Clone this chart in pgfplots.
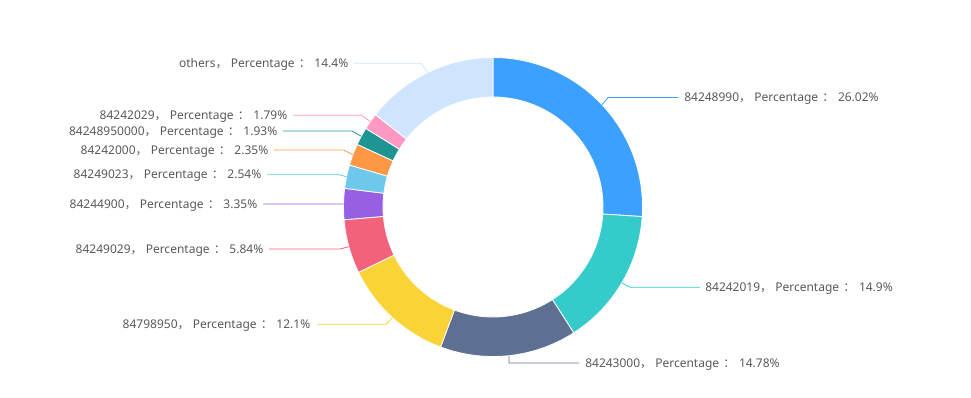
\documentclass[border=0pt]{standalone}
\usepackage{pgfplots}
\pgfplotsset{compat=1.18}
\usepackage{fontspec}
\setmainfont{Noto Sans}
\newfontfamily\cjk{Noto Sans CJK SC}
\definecolor{c1}{HTML}{3BA0FF}
\definecolor{c2}{HTML}{36CBCB}
\definecolor{c3}{HTML}{5D7092}
\definecolor{c4}{HTML}{FAD337}
\definecolor{c5}{HTML}{F2637B}
\definecolor{c6}{HTML}{975FE4}
\definecolor{c7}{HTML}{6DC8EC}
\definecolor{c8}{HTML}{FF9845}
\definecolor{c9}{HTML}{1E9493}
\definecolor{c10}{HTML}{FF99C3}
\definecolor{c11}{HTML}{CFE5FF}
\definecolor{txt}{HTML}{595959}
% #1 = cumulative percentage before the slice, #2 = slice percentage, #3 = colour
\newcommand\slice[3]{%
  \addplot[fill=#3, draw=white, line width=0.6pt, domain=0:3, samples=181, variable=\s]
  ({493 + ((\s<=1) ? 149.5 : ((\s<=2) ? (149.5-39.5*(\s-1)) : 110))*cos(90-3.6*(#1 + ((\s<=1) ? (#2*\s) : ((\s<=2) ? #2 : (#2*(3-\s))))))},
   {190 + ((\s<=1) ? 149.5 : ((\s<=2) ? (149.5-39.5*(\s-1)) : 110))*sin(90-3.6*(#1 + ((\s<=1) ? (#2*\s) : ((\s<=2) ? #2 : (#2*(3-\s))))))}) -- cycle;
}
\newcommand\lab[2]{#1{\cjk ，} Percentage\hspace{0.35em}{\cjk ：}\hspace{0.3em}#2\%}
\begin{document}
\begin{tikzpicture}
\begin{axis}[width=728.25pt, height=297.75pt, scale only axis,
  xmin=0, xmax=971, ymin=0, ymax=397, hide axis, clip=false]
\path (axis cs:0,0) rectangle (axis cs:971,397);
% slices: cumulative start, percentage
\slice{0}{26.02}{c1}
\slice{26.02}{14.9}{c2}
\slice{40.92}{14.78}{c3}
\slice{55.70}{12.1}{c4}
\slice{67.80}{5.84}{c5}
\slice{73.64}{3.35}{c6}
\slice{76.99}{2.54}{c7}
\slice{79.53}{2.35}{c8}
\slice{81.88}{1.93}{c9}
\slice{83.81}{1.79}{c10}
\slice{85.60}{14.4}{c11}
% leader lines
\addplot[c1, line width=0.6pt] coordinates {(602.1,292.2) (608,299.5) (678,299.5)};
\addplot[c2, line width=0.6pt] coordinates {(621.8,114.1) (630,109.7) (700,109.7)};
\addplot[c3, line width=0.6pt] coordinates {(508.9,41.3) (509,34) (579,34)};
\addplot[c4, line width=0.6pt] coordinates {(392.4,79.4) (386,72.7) (316.5,72.7)};
\addplot[c5, line width=0.6pt] coordinates {(348.9,150.3) (340,148) (269,148)};
\addplot[c6, line width=0.6pt] coordinates {(343.5,192.9) (334,193) (263,193)};
\addplot[c7, line width=0.6pt] coordinates {(346.6,220.3) (337,222.7) (267,222.7)};
\addplot[c8, line width=0.6pt] coordinates {(353,242.3) (343.5,247) (274,247)};
\addplot[c9, line width=0.6pt] coordinates {(361.3,260.7) (352,266) (283,266)};
\addplot[c10, line width=0.6pt] coordinates {(370.4,275.5) (361.5,281.7) (293,281.7)};
\addplot[c11, line width=0.6pt] coordinates {(427.7,324.5) (421,333.7) (354,333.7)};
% labels
\tikzset{lw/.style={anchor=west, inner sep=0pt, yshift=-1pt, text=txt, font=\fontsize{9}{10}\selectfont},
         le/.style={anchor=east, inner sep=0pt, yshift=-1pt, text=txt, font=\fontsize{9}{10}\selectfont}}
\node[lw] at (axis cs:684,299.5) {\lab{84248990}{26.02}};
\node[lw] at (axis cs:705,109.7) {\lab{84242019}{14.9}};
\node[lw] at (axis cs:585,34) {\lab{84243000}{14.78}};
\node[le] at (axis cs:310.5,72.7) {\lab{84798950}{12.1}};
\node[le] at (axis cs:263.5,148) {\lab{84249029}{5.84}};
\node[le] at (axis cs:257.5,193) {\lab{84244900}{3.35}};
\node[le] at (axis cs:261.5,222.7) {\lab{84249023}{2.54}};
\node[le] at (axis cs:268.5,247) {\lab{84242000}{2.35}};
\node[le] at (axis cs:277.5,266) {\lab{84248950000}{1.93}};
\node[le] at (axis cs:287.5,281.7) {\lab{84242029}{1.79}};
\node[le] at (axis cs:348.5,333.7) {\lab{others}{14.4}};
\end{axis}
\end{tikzpicture}
\end{document}
